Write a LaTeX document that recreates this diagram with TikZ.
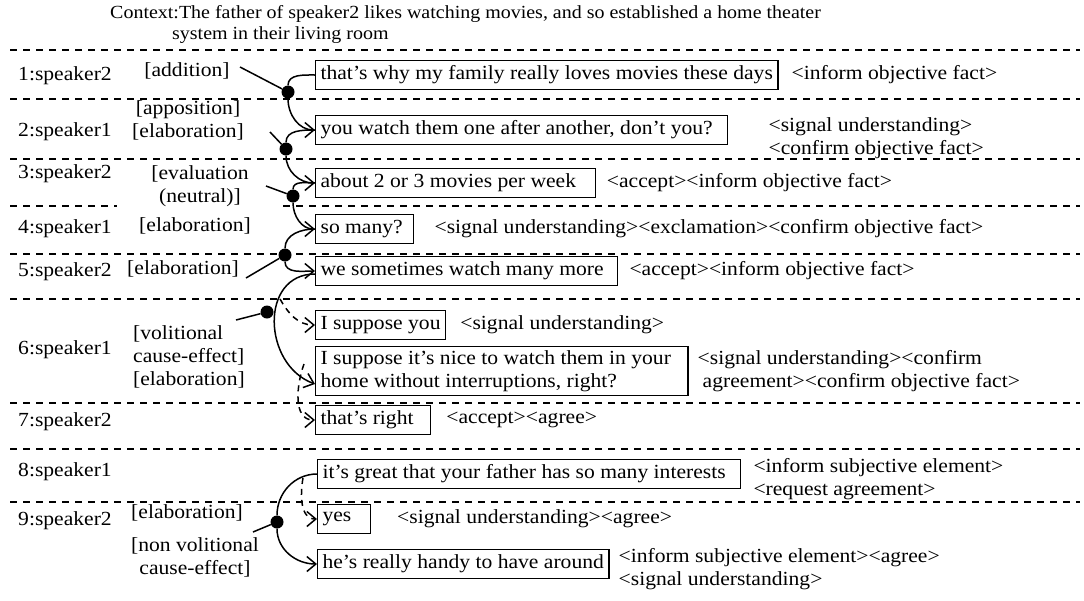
\documentclass[tikz,border=0pt]{standalone}
\usepackage{fontspec}
\setmainfont{Liberation Serif}[FakeStretch=1.08]
\usetikzlibrary{arrows.meta,positioning}

\begin{document}
\begin{tikzpicture}[x=1pt,y=-1pt,font=\fontsize{20}{23}\selectfont]
\tikzset{utt/.style={draw, line width=1.2pt, anchor=west, align=left, inner xsep=5pt, inner ysep=4pt, minimum height=29pt}}
\tikzset{spk/.style={anchor=west, inner sep=0pt}}
\tikzset{rel/.style={align=center, inner sep=0pt}}
\tikzset{act/.style={align=left, inner sep=0pt, anchor=west}}
\tikzset{turnsep/.style={dash pattern=on 7pt off 6pt, line width=1.1pt}}
\tikzset{rst/.style={circle, fill=black, inner sep=0pt, minimum size=13pt}}
\tikzset{link/.style={line width=1.5pt}}
\tikzset{weak/.style={link, dash pattern=on 6pt off 5pt}}
\tikzset{>={Straight Barb[length=9pt,width=15pt]}}
\useasboundingbox (0,0) rectangle (1084,600);

% context
\node[anchor=north west, align=left, inner sep=0pt, font=\fontsize{18.5}{21}\selectfont] (ctx) at (110,5)
  {Context:The father of speaker2 likes watching movies, and so established a home theater\\
   \hspace*{62pt}system in their living room};

% turn separators
\foreach \y in {50,99,159,254,299,403,449,502}
  \draw[turnsep] (10,\y) -- (1080,\y);
\draw[turnsep] (10,206) -- (117,206);
\draw[turnsep] (283,206) -- (1080,206);

% speakers
\foreach \n/\s/\y in {1/2/76, 2/1/132, 3/2/174, 4/1/229, 5/2/272, 6/1/350, 7/2/422, 8/1/472, 9/2/521}
  \node[spk] (s\n) at (18,\y) {\n:speaker\s};

% relations
\node[rel] (r1) at (187,71) {[addition]};
\node[rel] (r2) at (188,120) {[apposition]\\{}[elaboration]};
\node[rel] (r3) at (200,186) {[evaluation\\(neutral)]};
\node[rel] (r4) at (195,226) {[elaboration]};
\node[rel] (r5) at (183,269) {[elaboration]};
\node[rel, align=left, anchor=west] (r6) at (133,357) {[volitional\\cause-effect]\\{}[elaboration]};
\node[rel] (r9) at (187,513) {[elaboration]};
\node[rel] (r9b) at (195,557) {[non volitional\\cause-effect]};

% utterances
\node[utt] (b1) at (315,75) {that's why my family really loves movies these days};
\node[utt] (b2) at (315,130) {you watch them one after another, don't you?\hspace*{10pt}};
\node[utt] (b3) at (315,183) {about 2 or 3 movies per week\hspace*{14pt}};
\node[utt] (b4) at (315,229) {so many?\hspace*{6pt}};
\node[utt] (b5) at (315,271) {we sometimes watch many more\hspace*{9pt}};
\node[utt] (b6a) at (315,325) {I suppose you};
\node[utt] (b6b) at (315,371) {I suppose it's nice to watch them in your\hspace*{12pt}\\home without interruptions, right?};
\node[utt] (b7) at (315,420) {that's right\hspace*{12pt}};
\node[utt] (b8) at (317,474) {it's great that your father has so many interests\hspace*{10pt}};
\node[utt] (b9a) at (317,519) {yes\hspace*{14pt}};
\node[utt] (b9b) at (317,564) {he's really handy to have around};

% dialogue acts
\node[act, right=13pt of b1] (a1) {<inform objective fact>};
\node[act, right=40pt of b2, yshift=-8pt] (a2) {<signal understanding>\\<confirm objective fact>};
\node[act, right=11pt of b3] (a3) {<accept><inform objective fact>};
\node[act, right=20pt of b4] (a4) {<signal understanding><exclamation><confirm objective fact>};
\node[act, right=11pt of b5] (a5) {<accept><inform objective fact>};
\node[act, right=14pt of b6a] (a6a) {<signal understanding>};
\node[act, right=9pt of b6b] (a6b) {<signal understanding><confirm\\\hspace*{5pt}agreement><confirm objective fact>};
\node[act, right=15pt of b7] (a7) {<accept><agree>};
\node[act, right=12pt of b8, yshift=-5pt] (a8) {<inform subjective element>\\<request agreement>};
\node[act, right=26pt of b9a] (a9a) {<signal understanding><agree>};
\node[act, right=9pt of b9b, yshift=-5pt] (a9b) {<inform subjective element><agree>\\<signal understanding>};

% relation points
\node[rst] (d1) at (288,92) {};
\node[rst] (d2) at (286,149) {};
\node[rst] (d3) at (293,196) {};
\node[rst] (d5) at (285,255) {};
\node[rst] (d6) at (267,312) {};
\node[rst] (d9) at (277,522) {};
\coordinate (t1) at (240,67);
\coordinate (t2) at (270,132);
\coordinate (t3) at (266,186);
\coordinate (t5) at (246,278);
\coordinate (t6) at (236,320);
\coordinate (t9) at (253,532);
\coordinate (c6) at (280,299);
\coordinate (c7) at (304,364);
\coordinate (c9) at (303,478);

% label ticks
\foreach \i in {1,2,3,5,6,9}
  \draw[link] (t\i) -- (d\i);

% nucleus/satellite arcs
\draw[link] (d1) to[out=90,in=180] (b1.west);
\draw[link,->] (d1) to[out=-90,in=180] (b2.west);
\draw[link] (d2) to[out=90,in=180] (b2.west);
\draw[link,->] (d2) to[out=-90,in=180] (b3.west);
\draw[link] (d3) to[out=90,in=180] (b3.west);
\draw[link,->] (d3) to[out=-90,in=180] (b4.west);
\draw[link] (d5) to[out=90,in=180] (b4.west);
\draw[link,->] (d5) to[out=-90,in=180] (b5.west);
\draw[link,->] ([yshift=-3pt]b5.west) to[out=180,in=160,looseness=1.3] ([yshift=-13pt]b6b.west);
\draw[weak,->] (c6) to[out=-60,in=180] (b6a.west);
\draw[weak,->] (c7) to[out=250,in=180] (b7.west);
\draw[link] (b8.west) to[out=180,in=90] (d9);
\draw[link,->] (d9) to[out=-90,in=180] (b9b.west);
\draw[weak,->] (c9) to[out=-100,in=180] (b9a.west);
\end{tikzpicture}
\end{document}
